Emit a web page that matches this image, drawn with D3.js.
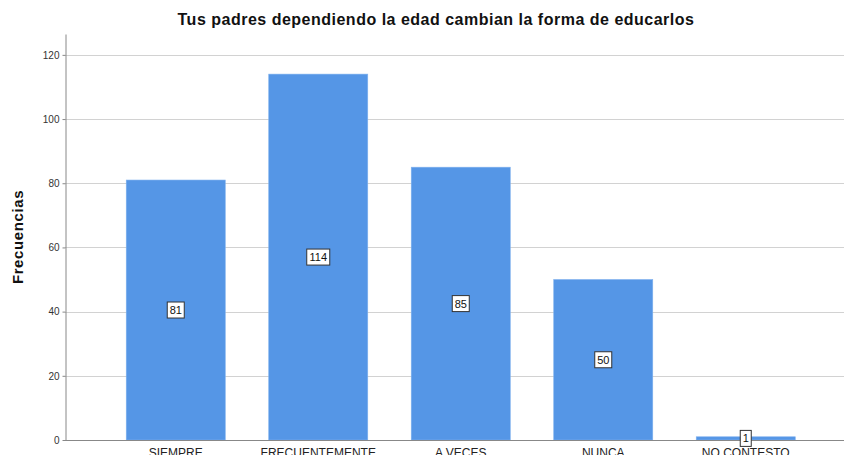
<!DOCTYPE html>
<html>
<head>
<meta charset="utf-8">
<script src="https://cdn.jsdelivr.net/npm/d3@7"></script>
<style>
	body { margin: 0; background: white; }
	svg { display: block; font-family: 'Liberation Sans', Arial, sans-serif; }
</style>
</head>
<body>
<div></div>
<script>
var categories = ['SIEMPRE', 'FRECUENTEMENTE', 'A VECES', 'NUNCA', 'NO CONTESTO'];
var frecuencias = [81, 114, 85, 50, 1];
var y_ticks = [0, 20, 40, 60, 80, 100, 120];

var width = 844;
var height = 455;

var svg = d3.select('div')
	.append('svg')
		.attr('width', width)
		.attr('height', height);

// title
svg.append('text')
	.attr('text-anchor', 'middle')
	.attr('x', 436)
	.attr('y', 25)
	.text('Tus padres dependiendo la edad cambian la forma de educarlos')
	.style('font-weight', 'bold')
	.style('font-size', '16px')
	.style('letter-spacing', '0.5px')
	.style('fill', '#111');

// y-axis label
svg.append('text')
	.attr('text-anchor', 'middle')
	.attr('transform', 'translate(23,237) rotate(-90)')
	.text('Frecuencias')
	.style('font-weight', 'bold')
	.style('font-size', '15px')
	.style('letter-spacing', '0.6px')
	.style('fill', '#111');

var x = d3.scaleBand()
	.domain(categories)
	.range([104.5, 817])
	.paddingInner(0.305)
	.paddingOuter(0.1525);

var y = d3.scaleLinear()
	.domain([0, 126.5])
	.range([440, 34]);

// grid
svg.append('g')
	.selectAll('line')
	.data(y_ticks.slice(1))
	.enter()
	.append('line')
		.attr('x1', 65)
		.attr('x2', width)
		.attr('y1', function(d) { return Math.round(y(d)) + 0.5; })
		.attr('y2', function(d) { return Math.round(y(d)) + 0.5; })
		.attr('stroke', '#d2d2d2')
		.attr('stroke-width', 1);

// y axis
var y_axis = svg.append('g')
	.attr('transform', 'translate(65.5,0)')
	.call(d3.axisLeft(y).tickValues(y_ticks).tickSize(3).tickSizeOuter(0));
y_axis.select('.domain').attr('stroke', '#888');
y_axis.selectAll('.tick line').attr('stroke', '#888');
y_axis.selectAll('text')
	.style('font-size', '10px')
	.style('fill', '#333')
	.style('font-family', "'Liberation Sans', Arial, sans-serif")
	.attr('x', -6);

// bars
svg.append('g')
	.selectAll('rect')
	.data(frecuencias)
	.enter()
	.append('rect')
		.attr('x', function(d, i) { return x(categories[i]); })
		.attr('y', function(d) { return y(d); })
		.attr('width', x.bandwidth())
		.attr('height', function(d) { return y(0) - y(d); })
		.style('fill', '#5596e6')
		.attr('stroke', '#7fb0ee')
		.attr('stroke-width', 0.6);

// baseline
svg.append('line')
	.attr('x1', 65)
	.attr('x2', width)
	.attr('y1', 440.5)
	.attr('y2', 440.5)
	.attr('stroke', '#888')
	.attr('stroke-width', 1);

// x labels
svg.append('g')
	.selectAll('text')
	.data(categories)
	.enter()
	.append('text')
		.attr('text-anchor', 'middle')
		.attr('x', function(d) { return x(d) + x.bandwidth() / 2; })
		.attr('y', 457)
		.text(function(d) { return d; })
		.style('font-size', '12px')
		.style('fill', '#222');

// value labels
var labels = svg.append('g')
	.selectAll('g')
	.data(frecuencias)
	.enter()
	.append('g')
		.attr('transform', function(d, i) {
			return 'translate(' + (x(categories[i]) + x.bandwidth() / 2) + ',' + y(d / 2) + ')';
		});
labels.append('rect')
	.attr('x', function(d) { return -(String(d).length * 3 + 2.5); })
	.attr('y', -8)
	.attr('width', function(d) { return String(d).length * 6 + 5; })
	.attr('height', 16)
	.style('fill', 'white')
	.attr('stroke', '#333')
	.attr('stroke-width', 1);
labels.append('text')
	.attr('text-anchor', 'middle')
	.attr('y', 4)
	.text(function(d) { return d; })
	.style('font-size', '11px')
	.style('fill', '#111');
</script>
</body>
</html>
